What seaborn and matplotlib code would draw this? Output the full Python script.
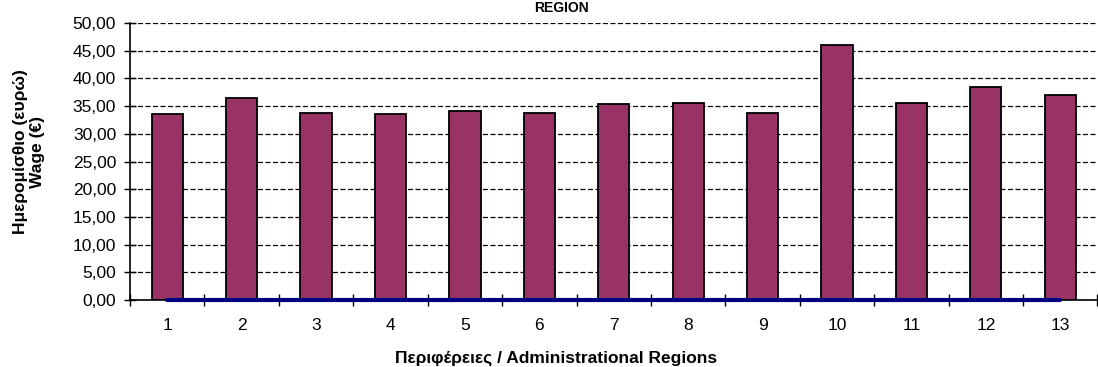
import numpy as np
import pandas as pd
import matplotlib
matplotlib.use("Agg")
import matplotlib.pyplot as plt
from matplotlib.ticker import FuncFormatter, FixedLocator
import seaborn as sns

regions = [str(i) for i in range(1, 14)]
wage = [33.5, 36.4, 33.8, 33.5, 34.1, 33.8, 35.3, 35.6, 33.8, 46.1, 35.6, 38.5, 37.0]
second_series = [0.0] * 13

sns.set_theme(style="white")
plt.rcParams['font.family'] = ['Liberation Sans', 'DejaVu Sans']

df = pd.DataFrame({"region": regions, "wage": wage, "other": second_series})

fig = plt.figure(figsize=(10.98, 3.67), dpi=100)
ax = fig.add_axes([130/1098, 1 - 300/367, 1 - 130/1098 - 0.0005, (300 - 23)/367])

sns.barplot(data=df, x="region", y="wage", order=regions, color="#993366",
            saturation=1, width=0.42, edgecolor="black", linewidth=1.3, ax=ax, zorder=3)
sns.pointplot(data=df, x="region", y="other", order=regions, color="#000080",
              markers="", linestyles="-", linewidth=3.0, ax=ax)
for ln in ax.lines:
    ln.set_zorder(5)
    ln.set_clip_on(False)

ax.set_xlim(-0.5, 12.5)
ax.set_ylim(0, 50)
ax.set_yticks(np.arange(0, 50.1, 5))
ax.yaxis.set_major_formatter(FuncFormatter(lambda v, p: f"{v:.2f}".replace(".", ",")))
ax.grid(axis="y", color="black", linestyle=(0, (4, 2)), linewidth=0.9, zorder=0)
ax.set_axisbelow(True)

ax.xaxis.set_minor_locator(FixedLocator(np.arange(-0.5, 12.6, 1)))
ax.tick_params(axis="x", which="major", length=0, pad=13, labelsize=12.5, colors="black")
ax.tick_params(axis="x", which="minor", length=8, width=1, direction="inout", bottom=True, color="black")
ax.tick_params(axis="y", which="major", length=8, width=1, direction="inout", left=True,
               labelsize=12.5, colors="black", pad=6)

for s in ["top", "right"]:
    ax.spines[s].set_visible(False)
for s in ["left", "bottom"]:
    ax.spines[s].set_color("black")
    ax.spines[s].set_linewidth(1.2)

ax.set_xlabel("")
ax.set_ylabel("")

fig.text(29/1098, 1 - 152/367, "Ημερομίσθιο (ευρώ)\nWage (€)", rotation=90,
         ha="center", va="center", multialignment="center",
         fontsize=12.5, fontweight="bold", color="black", linespacing=1.15)
fig.text(556/1098, 1 - 358/367, "Περιφέρειες / Administrational Regions",
         ha="center", va="center", fontsize=12.5, fontweight="bold", color="black")
fig.text(561/1098, 1 - 1/367, "REGION", ha="center", va="top",
         fontsize=10, fontweight="bold", color="black")

fig.savefig("out.png", dpi=100)
